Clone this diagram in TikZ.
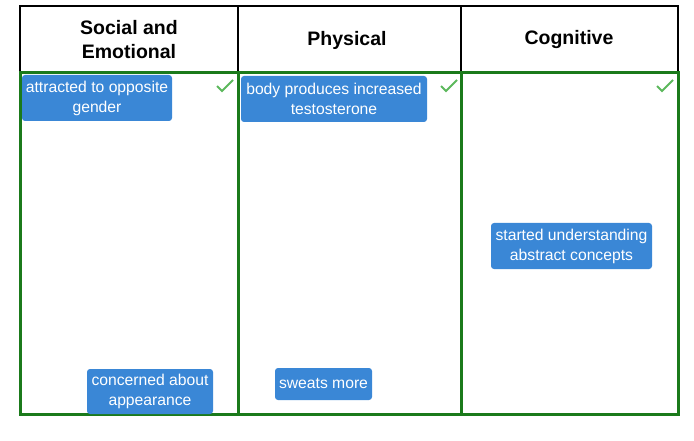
\documentclass[tikz,border=0pt]{standalone}
\usepackage{fontspec}
\setmainfont{Liberation Sans}
\definecolor{boxblue}{HTML}{3A87D6}
\definecolor{zgreen}{HTML}{1B7A1B}
\definecolor{chk}{HTML}{5CB85C}
\begin{document}
\begin{tikzpicture}[x=1pt,y=-1pt,
  hdr/.style={font=\bfseries\fontsize{19.5}{24}\selectfont,align=center},
  zone/.style={draw=zgreen,line width=3pt},
  card/.style={fill=boxblue,rounded corners=3pt,text=white,align=center,font=\fontsize{15.7}{20}\selectfont,inner sep=0pt},
  chkm/.style={draw=chk,line width=2pt}]
\useasboundingbox (0,0) rectangle (694,441);
\draw[line width=2pt] (20,6) rectangle (678,72);
\draw[line width=2pt] (238,6) -- (238,72) (461,6) -- (461,72);
\node[hdr] (h1) at (129,40) {Social and\\Emotional};
\node[hdr] (h2) at (347,40) {Physical};
\node[hdr] (h3) at (569,40) {Cognitive};
\draw[zone] (20,73) rectangle (238,414);
\draw[zone] (238,73) rectangle (461,414);
\draw[zone] (461,73) rectangle (678,414);
\foreach \x in {225,449,665}{\draw[chkm] (\x-8,86) -- (\x-3,91) -- (\x+8,80);}
\node[card,minimum width=150pt,minimum height=46pt] (c1) at (97,98) {attracted to opposite\\gender};
\node[card,minimum width=186pt,minimum height=46pt] (c2) at (334,99) {body produces increased\\testosterone};
\node[card,minimum width=161pt,minimum height=46pt] (c3) at (571.5,246) {started understanding\\abstract concepts};
\node[card,minimum width=126pt,minimum height=45pt] (c4) at (150,391.5) {concerned about\\appearance};
\node[card,minimum width=97pt,minimum height=32pt] (c5) at (323.5,384) {sweats more};
\end{tikzpicture}
\end{document}
